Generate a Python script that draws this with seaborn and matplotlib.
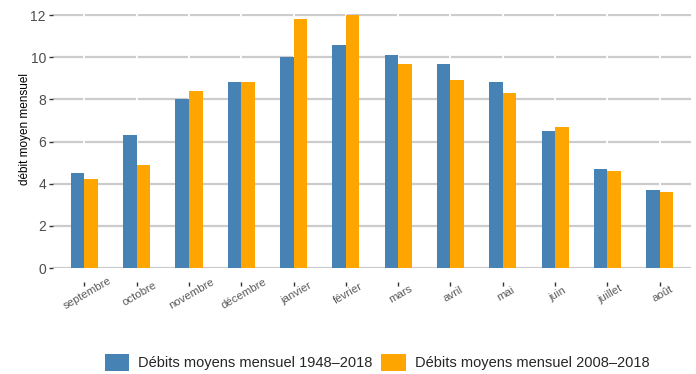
import matplotlib
matplotlib.use("Agg")
import matplotlib.pyplot as plt
import matplotlib.transforms as mtransforms
from matplotlib.patches import Patch
import seaborn as sns
import pandas as pd

mois = ["septembre", "octobre", "novembre", "décembre", "janvier", "février",
        "mars", "avril", "mai", "juin", "juillet", "août"]
debit_1948_2018 = [4.5, 6.3, 8.0, 8.8, 10.0, 10.6, 10.1, 9.7, 8.8, 6.5, 4.7, 3.7]
debit_2008_2018 = [4.2, 4.9, 8.4, 8.8, 11.8, 12.0, 9.7, 8.9, 8.3, 6.7, 4.6, 3.6]
periodes = ["Débits moyens mensuel 1948\u20132018", "Débits moyens mensuel 2008\u20132018"]
couleurs = ["#4682B4", "#FFA500"]
yticks = [0, 2, 4, 6, 8, 10, 12]

df = pd.DataFrame({
    "mois": mois * 2,
    "debit": debit_1948_2018 + debit_2008_2018,
    "periode": [periodes[0]] * len(mois) + [periodes[1]] * len(mois),
})

sns.set_style("white")
plt.rcParams["font.family"] = ["Liberation Sans", "DejaVu Sans"]

fig = plt.figure(figsize=(6.96, 3.74), dpi=100)
ax = fig.add_axes([0.076, 0.2834, 0.917, 0.6792])

sns.barplot(data=df, x="mois", y="debit", hue="periode", order=mois,
            hue_order=periodes, palette=couleurs, width=0.52, saturation=1,
            dodge=True, ax=ax, legend=False, zorder=2, linewidth=0,
            edgecolor="none")

ax.set_xlim(-0.6, len(mois) - 0.4)
ax.set_ylim(0, 12.05)
ax.set_yticks(yticks)

# horizontal grey grid, interrupted by thin white vertical lines at each month
for y in yticks:
    ax.axhline(y, color="#CCCCCC", lw=1.6, zorder=0.5)
for x in ax.get_xticks():
    ax.axvline(x, color="white", lw=1.3, zorder=0.6)

for s in ax.spines.values():
    s.set_visible(False)
ax.spines["bottom"].set_position(("outward", 10))

ax.tick_params(axis="y", which="both", left=True, length=3, width=1.0,
               color="#333333", labelsize=10, labelcolor="#4D4D4D", pad=2)
ax.tick_params(axis="x", which="both", bottom=True, length=3, width=1.0,
               color="#333333", labelsize=8.2, labelcolor="#5A5A5A", pad=5.5)
shift = mtransforms.ScaledTranslation(2 / 72, 0, fig.dpi_scale_trans)
for lab in ax.get_xticklabels():
    lab.set_rotation(30)
    lab.set_rotation_mode("anchor")
    lab.set_ha("center")
    lab.set_va("center")
    lab.set_transform(lab.get_transform() + shift)

ax.set_xlabel("")
ax.set_ylabel("débit moyen mensuel", fontsize=8.5, color="black")
ax.yaxis.set_label_coords(-0.034, 0.549)

handles = [Patch(facecolor=c, edgecolor="none") for c in couleurs]
fig.legend(handles, periodes, loc="lower center", bbox_to_anchor=(0.542, -0.027),
           ncol=2, frameon=False, fontsize=10.5, handlelength=1.65,
           handleheight=1.45, handletextpad=0.65, columnspacing=0.6)

fig.savefig("out.png", dpi=100)
